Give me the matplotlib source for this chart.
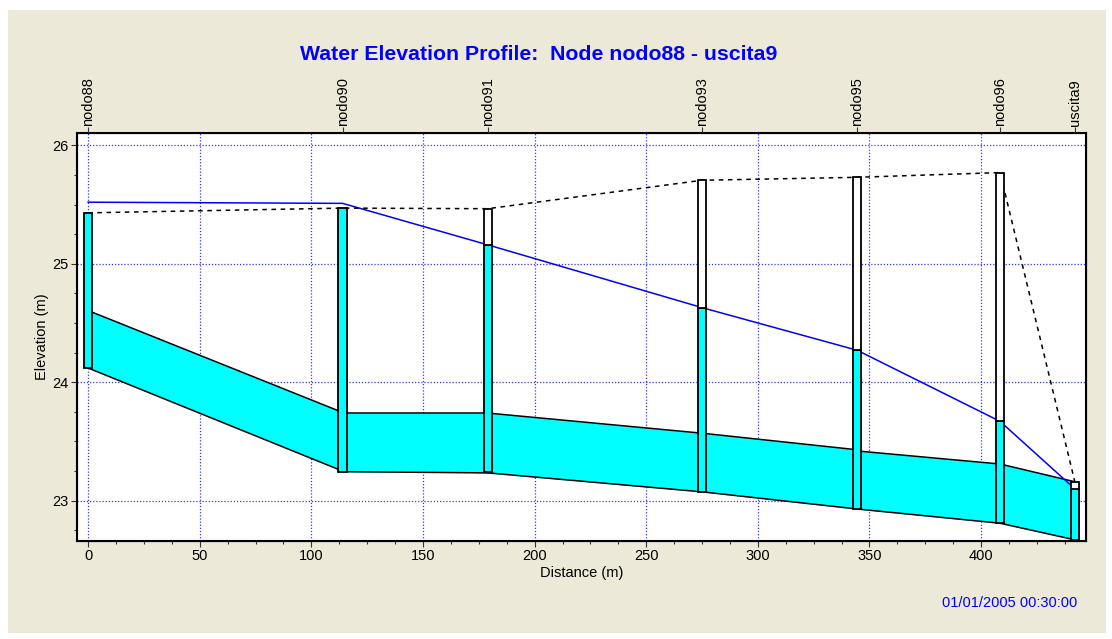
import matplotlib
matplotlib.use('Agg')
import matplotlib.pyplot as plt
from matplotlib.patches import Rectangle
from matplotlib.ticker import MultipleLocator

plt.rcParams['font.family'] = ['Liberation Sans', 'DejaVu Sans']

# nodes along the profile
node_names = ['nodo88', 'nodo90', 'nodo91', 'nodo93', 'nodo95', 'nodo96', 'uscita9']
node_dist = [0, 114, 179, 275, 344.5, 408.5, 442]
node_invert = [24.12, 23.245, 23.24, 23.075, 22.93, 22.81, 22.67]
node_ground = [25.43, 25.47, 25.465, 25.705, 25.73, 25.77, 23.16]
node_water = [25.52, 25.51, 25.16, 24.63, 24.27, 23.67, 23.10]

# conduits between consecutive nodes: invert and crown at both ends
link_inv_up = [24.12, 23.245, 23.235, 23.075, 22.93, 22.81]
link_inv_dn = [23.25, 23.235, 23.075, 22.93, 22.81, 22.67]
link_top_up = [24.605, 23.74, 23.74, 23.57, 23.42, 23.31]
link_top_dn = [23.745, 23.74, 23.57, 23.43, 23.31, 23.16]

x_ticks = [0, 50, 100, 150, 200, 250, 300, 350, 400]
y_ticks = [23, 24, 25, 26]

BG = '#ECE9D8'
CYAN = '#00FFFF'
BLUE = '#0000FF'
BAR_W = 3.8

fig = plt.figure(figsize=(11.12, 6.39), dpi=100, facecolor='white')
fig.patches.append(Rectangle((8 / 1112, 6 / 639), 1098 / 1112, 623 / 639,
                             transform=fig.transFigure, facecolor=BG,
                             edgecolor='none', zorder=-10))

ax = fig.add_axes([77 / 1112, 1 - 541 / 639, 1009 / 1112, 408 / 639])
ax.set_facecolor('white')
ax.set_xlim(-5, 447)
ax.set_ylim(22.66, 26.104)

# conduits
for i in range(len(link_inv_up)):
    xs = [node_dist[i], node_dist[i + 1]]
    inv = [link_inv_up[i], link_inv_dn[i]]
    top = [link_top_up[i], link_top_dn[i]]
    ax.fill_between(xs, inv, top, color=CYAN, linewidth=0, zorder=2)
    ax.plot(xs, inv, color='black', linewidth=1.1, zorder=2.5)
    ax.plot(xs, top, color='black', linewidth=1.1, zorder=2.5)

# water surface and ground surface
ax.plot(node_dist, node_water, color=BLUE, linewidth=1.1, zorder=3)
ax.plot(node_dist, node_ground, color='black', linewidth=1.1,
        linestyle=(0, (3, 3)), zorder=3)

# node manholes
for d, inv, grd, wl in zip(node_dist, node_invert, node_ground, node_water):
    wet = min(wl, grd)
    ax.add_patch(Rectangle((d - BAR_W / 2, inv), BAR_W, wet - inv,
                           facecolor=CYAN, edgecolor='black', linewidth=1.3, zorder=4))
    if grd > wl:
        ax.add_patch(Rectangle((d - BAR_W / 2, wl), BAR_W, grd - wl,
                               facecolor='white', edgecolor='black', linewidth=1.3, zorder=4))

ax.set_xticks(x_ticks)
ax.set_yticks(y_ticks)
ax.xaxis.set_minor_locator(MultipleLocator(12.5))
ax.yaxis.set_minor_locator(MultipleLocator(0.25))
ax.tick_params(which='major', direction='out', length=4.3, width=0.8,
               labelsize=10.5, pad=1.5, color='#333333')
ax.tick_params(which='minor', direction='out', length=2.5, width=0.8, color='#333333')
ax.grid(True, which='major', color=BLUE, linestyle=(0, (1, 1.5)), linewidth=0.9, alpha=0.8)
ax.set_axisbelow(True)
for s in ax.spines.values():
    s.set_linewidth(1.5)

ax.set_xlabel('Distance (m)', fontsize=10.5, labelpad=2)
ax.set_ylabel('Elevation (m)', fontsize=10.5, labelpad=3)

# node names along the top
top = ax.twiny()
top.set_xlim(ax.get_xlim())
top.set_xticks(node_dist)
top.set_xticklabels(node_names, rotation=90, fontsize=10.5)
top.tick_params(direction='out', length=4.3, width=0.8, pad=1, color='#333333')

fig.text(538.5 / 1112, 1 - 54 / 639, 'Water Elevation Profile:  Node nodo88 - uscita9',
         ha='center', va='center', color=BLUE, fontsize=15.3, fontweight='bold')
fig.text(1077 / 1112, 1 - 603 / 639, '01/01/2005 00:30:00',
         ha='right', va='center', color=BLUE, fontsize=10.5)

fig.savefig('out.png', dpi=100, facecolor=fig.get_facecolor())
